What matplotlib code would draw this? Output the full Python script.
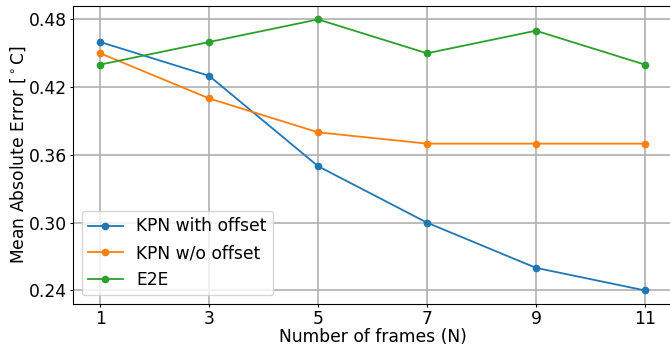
import matplotlib
matplotlib.use("Agg")
import matplotlib.pyplot as plt

frames = [1, 3, 5, 7, 9, 11]
kpn_offset = [0.46, 0.43, 0.35, 0.30, 0.26, 0.24]
kpn_no_offset = [0.45, 0.41, 0.38, 0.37, 0.37, 0.37]
e2e = [0.44, 0.46, 0.48, 0.45, 0.47, 0.44]
y_ticks = [0.24, 0.30, 0.36, 0.42, 0.48]

plt.rcParams["font.size"] = 12.3

fig = plt.figure(figsize=(6.7, 3.45), dpi=100)
ax = fig.add_axes([0.109, 0.119, 0.894, 0.864])

ax.plot(frames, kpn_offset, marker="o", markersize=4.5, linewidth=1.3, label="KPN with offset")
ax.plot(frames, kpn_no_offset, marker="o", markersize=4.5, linewidth=1.3, label="KPN w/o offset")
ax.plot(frames, e2e, marker="o", markersize=4.5, linewidth=1.3, label="E2E")

ax.set_xticks(frames)
ax.set_yticks(y_ticks)
ax.set_yticklabels([f"{v:.2f}" for v in y_ticks])
ax.tick_params(length=2.5, pad=2)
ax.grid(True, color="#b0b0b0", linewidth=1.2)
ax.set_axisbelow(True)
ax.set_xlabel("Number of frames (N)", labelpad=0)
ax.set_ylabel(r"Mean Absolute Error [$^\circ$C]", labelpad=0.5)
ax.legend(loc="lower left", handlelength=2.0)

fig.savefig("out.png", dpi=100)
